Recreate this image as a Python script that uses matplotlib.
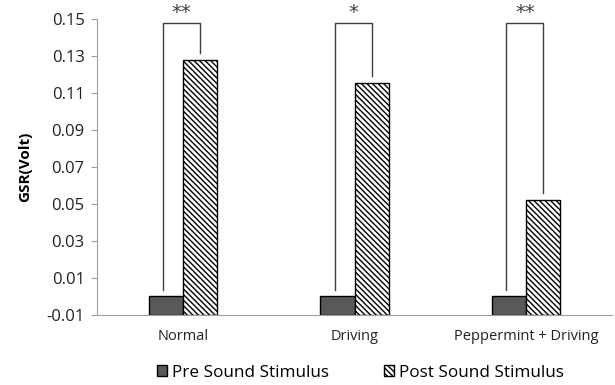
import matplotlib
matplotlib.use("Agg")
import matplotlib.pyplot as plt
import numpy as np

plt.rcParams['font.family'] = ['Open Sans', 'DejaVu Sans']
plt.rcParams['hatch.linewidth'] = 1.0

# data
conditions = ['Normal', 'Driving', 'Peppermint + Driving']
pre = [0.0, 0.0, 0.0]
post = [0.128, 0.1155, 0.0522]
stars = ['**', '*', '**']
yticks = [-0.01, 0.01, 0.03, 0.05, 0.07, 0.09, 0.11, 0.13, 0.15]

ymin = -0.01
fig = plt.figure(figsize=(6.15, 3.85), dpi=100)
ax = fig.add_axes([0.158, 0.182, 0.837, 0.769])

x = np.arange(len(conditions))
w = 0.2
ax.bar(x - w / 2, np.array(pre) - ymin, w, bottom=ymin, color='#595959',
       edgecolor='black', lw=1, label='Pre Sound Stimulus')
ax.bar(x + w / 2, np.array(post) - ymin, w, bottom=ymin, color='white',
       edgecolor='black', hatch='\\\\\\\\\\\\', lw=1, label='Post Sound Stimulus')

# significance brackets
top = 0.148
for i in range(len(conditions)):
    xl = x[i] - w / 2 - 0.015
    xr = x[i] + w / 2
    ax.plot([xl, xl, xr, xr], [pre[i] + 0.0035, top, top, post[i] + 0.0035],
            color='#404040', lw=1)
    ax.text((xl + xr) / 2, top + 0.0003, stars[i], ha='center', va='bottom',
            fontsize=14, color='#404040', family='DejaVu Sans')

ax.set_xlim(-0.5, 2.5)
ax.set_ylim(ymin, 0.15)
ax.set_yticks(yticks)
ax.set_yticklabels(['%.2f' % t for t in yticks], fontsize=12, color='#222222')
ax.set_xticks(x)
ax.set_xticklabels(conditions, fontsize=10.5, color='#222222')
ax.tick_params(axis='x', length=0, pad=10)
ax.tick_params(axis='y', length=4, color='#a0a0a0', pad=5)
ax.set_ylabel('GSR(Volt)', fontsize=11, fontweight='bold', labelpad=10)

for s in ['top', 'right']:
    ax.spines[s].set_visible(False)
ax.spines['left'].set_color('#a0a0a0')
ax.spines['bottom'].set_color('#a0a0a0')

ax.legend(loc='upper center', bbox_to_anchor=(0.512, -0.14), ncol=2, frameon=False,
          fontsize=12.3, handlelength=0.6, handleheight=0.6, handletextpad=0.3,
          columnspacing=3.2, borderpad=0)

fig.savefig('out.png', dpi=100)
